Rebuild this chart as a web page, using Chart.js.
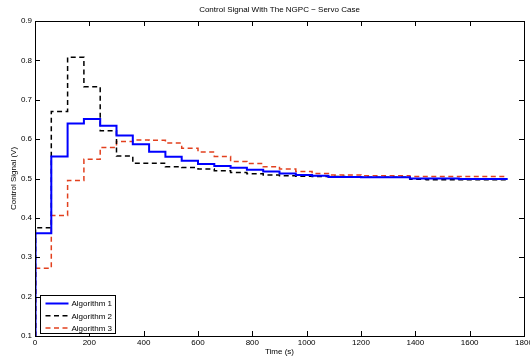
<!DOCTYPE html>
<html>
<head>
<meta charset="utf-8">
<script src="https://cdn.jsdelivr.net/npm/chart.js@4/dist/chart.umd.min.js"></script>
<style>
html,body{margin:0;padding:0;background:#fff;}
#c{display:block;}
</style>
</head>
<body>
<canvas id="c" width="530" height="358"></canvas>
<script>
// ---- data ----
const times = [0, 2, 60, 120, 180, 240, 300, 360, 420, 480, 540, 600, 660, 720, 780, 840, 900, 960, 1020, 1080, 1140, 1200, 1260, 1320, 1380, 1440, 1500, 1560, 1620, 1680, 1740];
const algorithm1 = [0.1, 0.361, 0.556, 0.640, 0.651, 0.634, 0.609, 0.587, 0.568, 0.555, 0.545, 0.537, 0.532, 0.527, 0.522, 0.518, 0.513, 0.509, 0.507, 0.504, 0.504, 0.503, 0.503, 0.503, 0.500, 0.500, 0.500, 0.499, 0.499, 0.499, 0.499];
const algorithm2 = [0.1, 0.375, 0.670, 0.808, 0.733, 0.621, 0.557, 0.539, 0.539, 0.530, 0.528, 0.524, 0.520, 0.515, 0.512, 0.509, 0.507, 0.506, 0.505, 0.505, 0.504, 0.503, 0.503, 0.503, 0.498, 0.497, 0.497, 0.497, 0.497, 0.497, 0.497];
const algorithm3 = [0.1, 0.272, 0.406, 0.495, 0.549, 0.579, 0.594, 0.598, 0.597, 0.590, 0.577, 0.567, 0.556, 0.543, 0.538, 0.530, 0.524, 0.518, 0.513, 0.509, 0.509, 0.507, 0.507, 0.507, 0.505, 0.505, 0.505, 0.505, 0.505, 0.505, 0.505];
const seriesNames = ['Algorithm 1', 'Algorithm 2', 'Algorithm 3'];
const xTicks = [0, 200, 400, 600, 800, 1000, 1200, 1400, 1600, 1800];
const yTicks = [0.1, 0.2, 0.3, 0.4, 0.5, 0.6, 0.7, 0.8, 0.9];
const titleText = 'Control Signal With The NGPC \u2212 Servo Case';
const xTitle = 'Time (s)';
const yTitle = 'Control Signal (V)';

const FONT = 'Liberation Sans, Arial, Helvetica, sans-serif';
const toPts = (vals) => times.map((t, i) => ({x: t, y: vals[i]}));

const boxTicks = {
  id: 'boxTicks',
  afterDraw(chart) {
    const ctx = chart.ctx, a = chart.chartArea;
    const xs = chart.scales.x, ys = chart.scales.y;
    const L = 5;
    ctx.save();
    ctx.strokeStyle = '#000';
    ctx.lineWidth = 1;
    ctx.beginPath();
    ctx.rect(Math.round(a.left) + 0.5, Math.round(a.top) + 0.5, Math.round(a.right - a.left), Math.round(a.bottom - a.top));
    ctx.stroke();
    ctx.beginPath();
    xTicks.forEach(v => {
      const px = Math.round(xs.getPixelForValue(v)) + 0.5;
      ctx.moveTo(px, a.bottom); ctx.lineTo(px, a.bottom - L);
      ctx.moveTo(px, a.top); ctx.lineTo(px, a.top + L);
    });
    yTicks.forEach(v => {
      const py = Math.round(ys.getPixelForValue(v)) + 0.5;
      ctx.moveTo(a.left, py); ctx.lineTo(a.left + L, py);
      ctx.moveTo(a.right, py); ctx.lineTo(a.right - L, py);
    });
    ctx.stroke();

    // legend box (bottom-left inside axes)
    const bx = 40.5, by = 295.5, bw = 75, bh = 38;
    ctx.fillStyle = '#fff';
    ctx.fillRect(bx, by, bw, bh);
    ctx.strokeRect(bx, by, bw, bh);
    ctx.font = '8px ' + FONT;
    ctx.textBaseline = 'middle';
    ctx.textAlign = 'left';
    chart.data.datasets.forEach((ds, i) => {
      const yy = by + 8 + i * 12.3;
      ctx.beginPath();
      ctx.strokeStyle = ds.borderColor;
      ctx.lineWidth = ds.borderWidth;
      ctx.setLineDash(ds.borderDash || []);
      ctx.moveTo(bx + 5, yy); ctx.lineTo(bx + 28, yy);
      ctx.stroke();
      ctx.setLineDash([]);
      ctx.fillStyle = '#000';
      ctx.fillText(ds.label, bx + 31, yy + 0.5);
    });
    ctx.restore();
  }
};

new Chart(document.getElementById('c'), {
  type: 'line',
  data: {
    datasets: [
      {label: seriesNames[0], data: toPts(algorithm1), borderColor: '#0000ff', borderWidth: 2, stepped: 'before', pointRadius: 0, fill: false},
      {label: seriesNames[1], data: toPts(algorithm2), borderColor: '#000000', borderWidth: 1.5, borderDash: [5, 3.5], stepped: 'before', pointRadius: 0, fill: false},
      {label: seriesNames[2], data: toPts(algorithm3), borderColor: '#e2401e', borderWidth: 1.5, borderDash: [5, 3.5], stepped: 'before', pointRadius: 0, fill: false}
    ]
  },
  options: {
    responsive: false,
    animation: false,
    devicePixelRatio: 1,
    layout: {padding: {top: 0, right: 6, bottom: 0, left: 0}},
    plugins: {
      legend: {display: false},
      tooltip: {enabled: false},
      title: {
        display: true, text: titleText, fullSize: false, color: '#000',
        font: {family: FONT, size: 8, weight: 'normal'},
        padding: {top: 5, bottom: 6.4}
      }
    },
    scales: {
      x: {
        type: 'linear', min: 0, max: 1800,
        afterBuildTicks: (s) => { s.ticks = xTicks.map(v => ({value: v})); },
        ticks: {color: '#000', font: {family: FONT, size: 8}, padding: 2, maxRotation: 0, autoSkip: false, callback: (v) => String(v)},
        grid: {display: false, drawTicks: false},
        border: {display: true, color: '#000', width: 1},
        title: {display: true, text: xTitle, color: '#000', font: {family: FONT, size: 8}, padding: {top: 0, bottom: 1}},
        afterFit: (s) => { s.height = 22; s.paddingLeft = 0; s.paddingRight = 0; }
      },
      y: {
        type: 'linear', min: 0.1, max: 0.9,
        afterBuildTicks: (s) => { s.ticks = yTicks.map(v => ({value: v})); },
        ticks: {color: '#000', font: {family: FONT, size: 8}, padding: 3, callback: (v) => Number(v).toFixed(1)},
        grid: {display: false, drawTicks: false},
        border: {display: true, color: '#000', width: 1},
        title: {display: true, text: yTitle, color: '#000', font: {family: FONT, size: 8}, padding: {top: 8.7, bottom: 0}},
        afterFit: (s) => { s.width = 35; s.paddingTop = 0; s.paddingBottom = 0; }
      }
    }
  },
  plugins: [boxTicks]
});
</script>
</body>
</html>
